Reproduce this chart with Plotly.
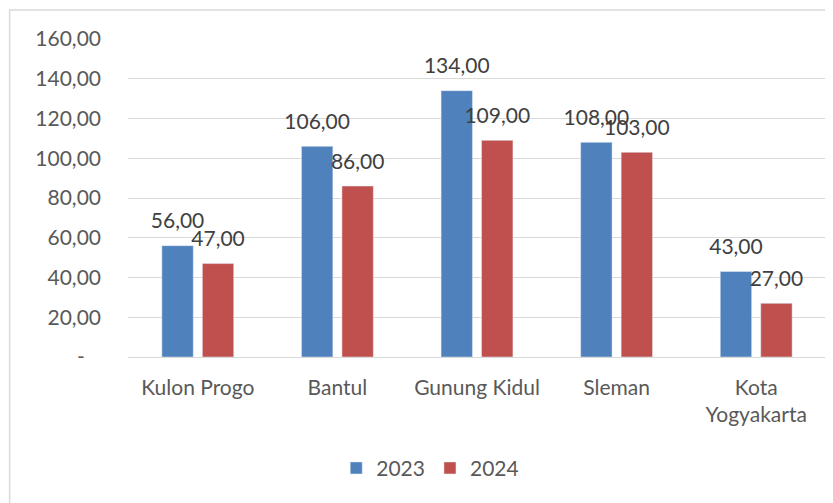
import plotly.graph_objects as go

# Data
regions = ["Kulon Progo", "Bantul", "Gunung Kidul", "Sleman", "Kota<br>Yogyakarta"]
values_2023 = [56, 106, 134, 108, 43]
values_2024 = [47, 86, 109, 103, 27]
y_ticks = [0, 20, 40, 60, 80, 100, 120, 140, 160]
y_tick_labels = ["-\u00a0\u00a0\u00a0", "20,00", "40,00", "60,00", "80,00",
                 "100,00", "120,00", "140,00", "160,00"]

FONT = "Lato, Open Sans, sans-serif"
TEXT_SIZE = 21
GAP = 0.42


def fmt(v):
    return f"{v:.2f}".replace(".", ",")


fig = go.Figure()
for name, vals, color in [("2023", values_2023, "#4F81BD"), ("2024", values_2024, "#C0504D")]:
    fig.add_trace(go.Bar(name=name, x=regions, y=vals, marker=dict(color=color),
                         offsetgroup=name))
# data labels: grouped text-only scatter so they sit a bit above the bars
for name, vals in [("2023", values_2023), ("2024", values_2024)]:
    fig.add_trace(go.Scatter(
        x=regions, y=vals, mode="markers+text", offsetgroup=name,
        text=[fmt(v) for v in vals], textposition="top center",
        marker=dict(size=18, opacity=0), cliponaxis=False,
        textfont=dict(size=TEXT_SIZE, color="#404040"),
        showlegend=False, hoverinfo="skip",
    ))

# page body has an 8px margin, so the figure is 8px smaller and shifted
fig.update_layout(
    width=825, height=495,
    margin=dict(l=120, r=7, t=31, b=146),
    plot_bgcolor="white", paper_bgcolor="white",
    font=dict(family=FONT, size=TEXT_SIZE, color="#595959"),
    barmode="group", bargap=GAP, bargroupgap=0.225,
    scattermode="group", scattergap=GAP,
    showlegend=True,
    legend=dict(orientation="h", x=0.433, xanchor="center", y=-0.35, yanchor="middle",
                font=dict(size=TEXT_SIZE, color="#595959"), itemwidth=30, traceorder="normal"),
    xaxis=dict(showgrid=False, showline=False, ticks="", ticklabelstandoff=16,
               tickfont=dict(size=TEXT_SIZE, color="#595959")),
    yaxis=dict(range=[0, 160], tickvals=y_ticks, ticktext=y_tick_labels,
               showgrid=True, gridcolor="#D9D9D9", gridwidth=1,
               zeroline=True, zerolinecolor="#D9D9D9", zerolinewidth=1,
               showline=False, ticks="", ticklabelstandoff=26,
               tickfont=dict(size=TEXT_SIZE, color="#595959")),
    shapes=[dict(type="rect", xref="paper", yref="paper",
                 x0=-0.1696, x1=1.05, y0=-0.5, y1=1.0912,
                 line=dict(color="#D9D9D9", width=1.5), layer="below")],
)

fig.write_html("out.html")
